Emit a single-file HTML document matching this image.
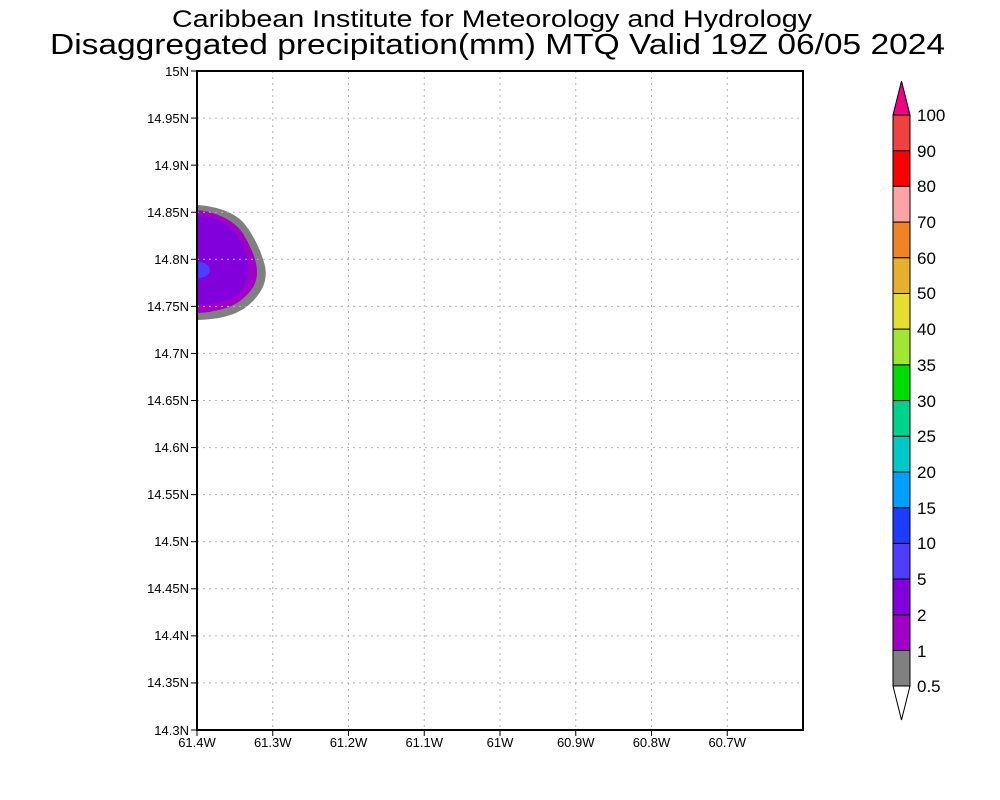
<!DOCTYPE html>
<html><head><meta charset="utf-8"><style>
html,body{margin:0;padding:0;background:#fff;}
svg{display:block;}
text{font-family:"Liberation Sans",sans-serif;fill:#000;}
</style></head><body>
<svg width="1000" height="800" viewBox="0 0 1000 800" xmlns="http://www.w3.org/2000/svg">
<rect width="1000" height="800" fill="#fff"/>
<text x="172" y="27" font-size="24" textLength="640" lengthAdjust="spacingAndGlyphs">Caribbean Institute for Meteorology and Hydrology</text>
<text x="50" y="54" font-size="29" textLength="895" lengthAdjust="spacingAndGlyphs">Disaggregated precipitation(mm) MTQ Valid 19Z 06/05 2024</text>
<defs><clipPath id="pc"><rect x="197" y="71" width="606" height="659"/></clipPath></defs>
<g clip-path="url(#pc)">
<path fill="#808080" d="M190,205 L198,205 C212,206 230,210 242,221 C252,232 261,250 265,266 C268,281 262,292 251,303 C240,313 226,319 198,320 L190,320 Z"/>
<path fill="#a000c8" d="M190,210 L198,210 C215,212 232,219 242,232 C250,245 257,260 257,272 C257,285 250,293 240,301 C230,308 215,312 198,313 L190,313 Z"/>
<path fill="#8200dc" d="M190,215 L198,215 C215,217 232,225 240,240 C247,252 249,265 248,275 C246,288 238,296 225,301 C215,304 205,305 198,305 L190,305 Z"/>
<ellipse cx="199" cy="270" rx="11" ry="8" fill="#503cff"/>
</g>
<g stroke="#b4b4b4" stroke-width="1" stroke-dasharray="2,4">
<line x1="272.75" y1="71" x2="272.75" y2="730"/>
<line x1="348.5" y1="71" x2="348.5" y2="730"/>
<line x1="424.25" y1="71" x2="424.25" y2="730"/>
<line x1="500" y1="71" x2="500" y2="730"/>
<line x1="575.75" y1="71" x2="575.75" y2="730"/>
<line x1="651.5" y1="71" x2="651.5" y2="730"/>
<line x1="727.25" y1="71" x2="727.25" y2="730"/>
<line x1="197" y1="118.07" x2="803" y2="118.07"/>
<line x1="197" y1="165.14" x2="803" y2="165.14"/>
<line x1="197" y1="212.21" x2="803" y2="212.21"/>
<line x1="197" y1="259.29" x2="803" y2="259.29"/>
<line x1="197" y1="306.36" x2="803" y2="306.36"/>
<line x1="197" y1="353.43" x2="803" y2="353.43"/>
<line x1="197" y1="400.5" x2="803" y2="400.5"/>
<line x1="197" y1="447.57" x2="803" y2="447.57"/>
<line x1="197" y1="494.64" x2="803" y2="494.64"/>
<line x1="197" y1="541.71" x2="803" y2="541.71"/>
<line x1="197" y1="588.79" x2="803" y2="588.79"/>
<line x1="197" y1="635.86" x2="803" y2="635.86"/>
<line x1="197" y1="682.93" x2="803" y2="682.93"/>
</g>
<rect x="197" y="71" width="606" height="659" fill="none" stroke="#000" stroke-width="2"/>
<g stroke="#000" stroke-width="1">
<line x1="191" y1="71" x2="197" y2="71"/>
<line x1="191" y1="118.07" x2="197" y2="118.07"/>
<line x1="191" y1="165.14" x2="197" y2="165.14"/>
<line x1="191" y1="212.21" x2="197" y2="212.21"/>
<line x1="191" y1="259.29" x2="197" y2="259.29"/>
<line x1="191" y1="306.36" x2="197" y2="306.36"/>
<line x1="191" y1="353.43" x2="197" y2="353.43"/>
<line x1="191" y1="400.5" x2="197" y2="400.5"/>
<line x1="191" y1="447.57" x2="197" y2="447.57"/>
<line x1="191" y1="494.64" x2="197" y2="494.64"/>
<line x1="191" y1="541.71" x2="197" y2="541.71"/>
<line x1="191" y1="588.79" x2="197" y2="588.79"/>
<line x1="191" y1="635.86" x2="197" y2="635.86"/>
<line x1="191" y1="682.93" x2="197" y2="682.93"/>
<line x1="191" y1="730" x2="197" y2="730"/>
<line x1="197" y1="730" x2="197" y2="736"/>
<line x1="272.75" y1="730" x2="272.75" y2="736"/>
<line x1="348.5" y1="730" x2="348.5" y2="736"/>
<line x1="424.25" y1="730" x2="424.25" y2="736"/>
<line x1="500" y1="730" x2="500" y2="736"/>
<line x1="575.75" y1="730" x2="575.75" y2="736"/>
<line x1="651.5" y1="730" x2="651.5" y2="736"/>
<line x1="727.25" y1="730" x2="727.25" y2="736"/>
</g>
<g font-size="13" text-anchor="end">
<text x="189" y="76">15N</text>
<text x="189" y="123">14.95N</text>
<text x="189" y="170">14.9N</text>
<text x="189" y="217">14.85N</text>
<text x="189" y="264">14.8N</text>
<text x="189" y="311">14.75N</text>
<text x="189" y="358">14.7N</text>
<text x="189" y="405">14.65N</text>
<text x="189" y="452">14.6N</text>
<text x="189" y="499">14.55N</text>
<text x="189" y="546">14.5N</text>
<text x="189" y="593">14.45N</text>
<text x="189" y="640">14.4N</text>
<text x="189" y="687">14.35N</text>
<text x="189" y="735">14.3N</text>
</g>
<g font-size="13" text-anchor="middle">
<text x="197" y="747">61.4W</text>
<text x="272.75" y="747">61.3W</text>
<text x="348.5" y="747">61.2W</text>
<text x="424.25" y="747">61.1W</text>
<text x="500" y="747">61W</text>
<text x="575.75" y="747">60.9W</text>
<text x="651.5" y="747">60.8W</text>
<text x="727.25" y="747">60.7W</text>
</g>
<g stroke="#000" stroke-width="1">
<polygon points="893,115 910,115 901.5,81" fill="#f00082"/>
<rect x="893" y="115" width="17" height="35.7" fill="#f04040"/>
<rect x="893" y="150.7" width="17" height="35.7" fill="#fa0000"/>
<rect x="893" y="186.4" width="17" height="35.7" fill="#fca4a4"/>
<rect x="893" y="222.1" width="17" height="35.7" fill="#f08228"/>
<rect x="893" y="257.8" width="17" height="35.7" fill="#e6af2d"/>
<rect x="893" y="293.5" width="17" height="35.7" fill="#e6dc32"/>
<rect x="893" y="329.2" width="17" height="35.7" fill="#a0e632"/>
<rect x="893" y="364.9" width="17" height="35.7" fill="#00dc00"/>
<rect x="893" y="400.6" width="17" height="35.7" fill="#00d28c"/>
<rect x="893" y="436.3" width="17" height="35.7" fill="#00c8c8"/>
<rect x="893" y="472" width="17" height="35.7" fill="#00a0ff"/>
<rect x="893" y="507.7" width="17" height="35.7" fill="#1e3cff"/>
<rect x="893" y="543.4" width="17" height="35.7" fill="#503cff"/>
<rect x="893" y="579.1" width="17" height="35.7" fill="#8200dc"/>
<rect x="893" y="614.8" width="17" height="35.7" fill="#a000c8"/>
<rect x="893" y="650.5" width="17" height="35.5" fill="#808080"/>
<polygon points="893,686 910,686 901.5,720" fill="#fff"/>
</g>
<g font-size="17">
<text x="917" y="121">100</text>
<text x="917" y="157">90</text>
<text x="917" y="192">80</text>
<text x="917" y="228">70</text>
<text x="917" y="264">60</text>
<text x="917" y="299">50</text>
<text x="917" y="335">40</text>
<text x="917" y="371">35</text>
<text x="917" y="407">30</text>
<text x="917" y="442">25</text>
<text x="917" y="478">20</text>
<text x="917" y="514">15</text>
<text x="917" y="549">10</text>
<text x="917" y="585">5</text>
<text x="917" y="621">2</text>
<text x="917" y="657">1</text>
<text x="917" y="692">0.5</text>
</g>
</svg>
</body></html>
